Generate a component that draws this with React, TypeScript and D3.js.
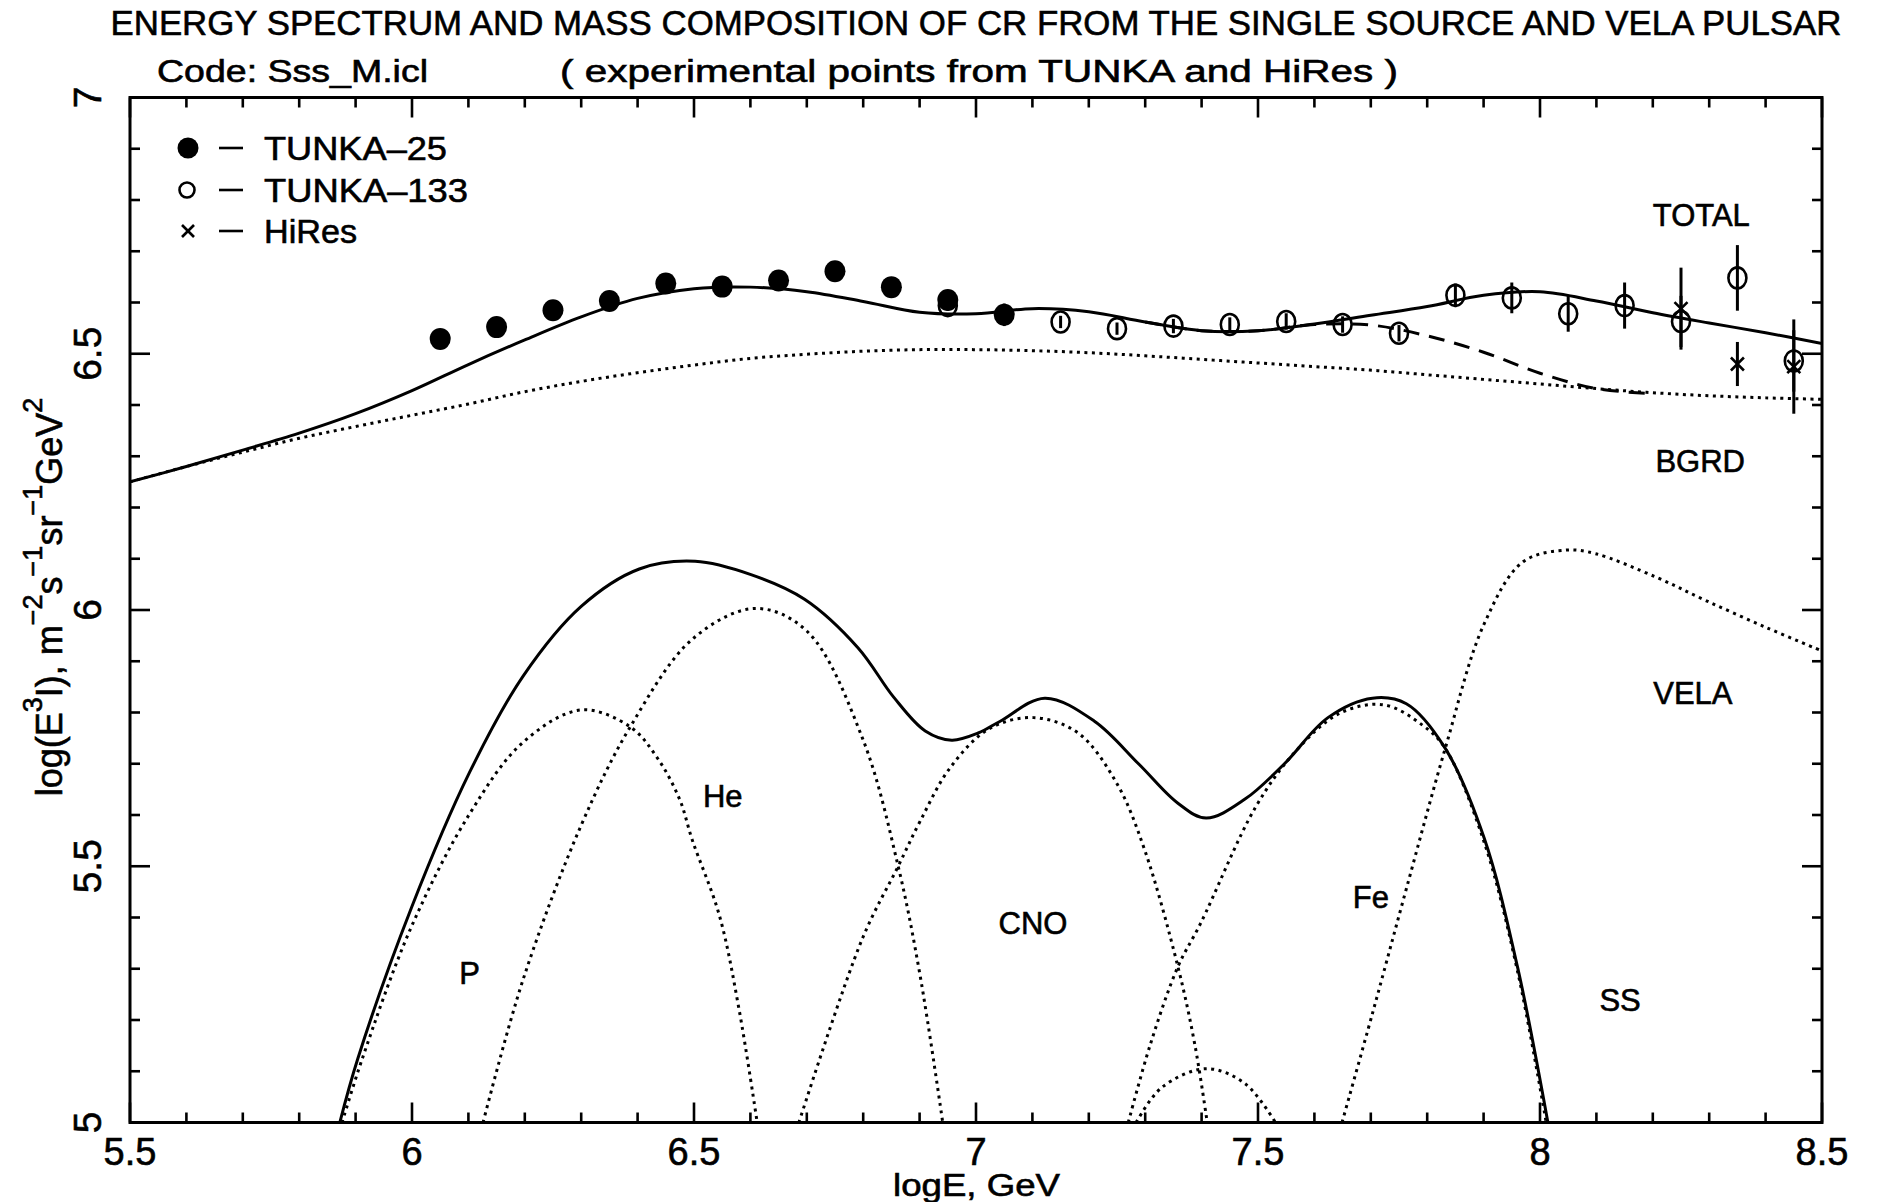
import React from 'react';
import * as d3 from 'd3';

type Pt = [number, number];

const W = 1877;
const H = 1202;
const PLOT = { left: 130, right: 1822, top: 97.5, bottom: 1122.5 };

const xDomain: Pt = [5.5, 8.5];
const yDomain: Pt = [5, 7];
const xTickValues = [5.5, 6, 6.5, 7, 7.5, 8, 8.5];
const xTickLabels = ['5.5', '6', '6.5', '7', '7.5', '8', '8.5'];
const yTickValues = [5, 5.5, 6, 6.5, 7];
const yTickLabels = ['5', '5.5', '6', '6.5', '7'];

// model curves (logE, log(E^3 I))
const totalCurve: Pt[] = [
  [5.5, 6.25], [5.6, 6.28], [5.7, 6.312], [5.8, 6.345], [5.9, 6.383], [6.0, 6.428],
  [6.1, 6.479], [6.2, 6.527], [6.3, 6.572], [6.4, 6.608], [6.5, 6.627], [6.6, 6.63],
  [6.7, 6.621], [6.8, 6.602], [6.9, 6.581], [7.0, 6.578], [7.1, 6.588], [7.2, 6.582],
  [7.3, 6.562], [7.4, 6.545], [7.5, 6.545], [7.6, 6.558], [7.7, 6.575], [7.8, 6.592],
  [7.9, 6.614], [8.0, 6.621], [8.1, 6.603], [8.2, 6.58], [8.3, 6.56], [8.4, 6.541], [8.5, 6.52],
];
const noVelaCurve: Pt[] = [
  [7.3, 6.562], [7.4, 6.545], [7.5, 6.545], [7.6, 6.557], [7.7, 6.556], [7.8, 6.535],
  [7.9, 6.503], [8.0, 6.462], [8.1, 6.432], [8.2, 6.422],
];
const bgrdCurve: Pt[] = [
  [5.5, 6.25], [5.6, 6.28], [5.7, 6.308], [5.8, 6.335], [5.9, 6.358], [6.0, 6.38],
  [6.1, 6.402], [6.2, 6.426], [6.3, 6.446], [6.4, 6.463], [6.5, 6.478], [6.6, 6.491],
  [6.7, 6.499], [6.8, 6.505], [6.9, 6.508], [7.0, 6.508], [7.1, 6.506], [7.2, 6.502],
  [7.3, 6.496], [7.4, 6.489], [7.5, 6.482], [7.6, 6.475], [7.7, 6.468], [7.8, 6.459],
  [7.9, 6.45], [8.0, 6.441], [8.1, 6.432], [8.2, 6.424], [8.3, 6.418], [8.4, 6.414], [8.5, 6.411],
];
const ssCurve: Pt[] = [
  [5.872, 5.0], [5.904, 5.125], [5.999, 5.419], [6.102, 5.683], [6.197, 5.871], [6.3, 6.007],
  [6.403, 6.08], [6.502, 6.095], [6.601, 6.069], [6.696, 6.021], [6.791, 5.926], [6.854, 5.83],
  [6.91, 5.764], [6.957, 5.746], [7.004, 5.76], [7.043, 5.783], [7.122, 5.828], [7.21, 5.783],
  [7.289, 5.699], [7.358, 5.623], [7.408, 5.594], [7.477, 5.631], [7.546, 5.699], [7.624, 5.79],
  [7.703, 5.828], [7.763, 5.817], [7.832, 5.73], [7.901, 5.555], [7.96, 5.304], [8.014, 5.0],
];
const pCurve: Pt[] = [
  [5.876, 5.0], [5.912, 5.125], [5.999, 5.382], [6.102, 5.602], [6.197, 5.742], [6.3, 5.805],
  [6.387, 5.772], [6.434, 5.713], [6.474, 5.632], [6.497, 5.551], [6.545, 5.404], [6.58, 5.22], [6.612, 5.0],
];
const heCurve: Pt[] = [
  [6.126, 5.0], [6.197, 5.279], [6.3, 5.58], [6.387, 5.772], [6.498, 5.944], [6.608, 6.003],
  [6.7, 5.959], [6.799, 5.749], [6.862, 5.5], [6.901, 5.286], [6.941, 5.0],
];
const cnoCurve: Pt[] = [
  [6.686, 5.0], [6.799, 5.36], [6.862, 5.5], [6.901, 5.588], [6.954, 5.692], [7.023, 5.768],
  [7.102, 5.79], [7.181, 5.76], [7.25, 5.661], [7.299, 5.532], [7.358, 5.304], [7.388, 5.152], [7.41, 5.0],
];
const feCurve: Pt[] = [
  [7.27, 5.0], [7.309, 5.152], [7.358, 5.304], [7.398, 5.388], [7.496, 5.616], [7.565, 5.722],
  [7.644, 5.798], [7.723, 5.815], [7.792, 5.775], [7.832, 5.73], [7.901, 5.547], [7.96, 5.296], [8.011, 5.0],
];
const minorCurve: Pt[] = [
  [7.284, 5.0], [7.329, 5.068], [7.408, 5.105], [7.477, 5.076], [7.531, 5.0],
];
const velaCurve: Pt[] = [
  [7.649, 5.0], [7.703, 5.213], [7.763, 5.456], [7.832, 5.73], [7.901, 5.973], [7.97, 6.094],
  [8.048, 6.117], [8.098, 6.11], [8.206, 6.064], [8.295, 6.018], [8.403, 5.965], [8.5, 5.92],
];

// experimental points
const tunka25E = [6.05, 6.15, 6.25, 6.35, 6.45, 6.55, 6.65, 6.75, 6.85, 6.95, 7.05];
const tunka25Flux = [6.529, 6.552, 6.585, 6.603, 6.637, 6.631, 6.643, 6.661, 6.63, 6.605, 6.576];
const tunka25Err = [0.01, 0.01, 0.01, 0.01, 0.01, 0.01, 0.01, 0.01, 0.012, 0.015, 0.022];

const tunka133E = [6.95, 7.15, 7.25, 7.35, 7.45, 7.55, 7.65, 7.75, 7.85, 7.95, 8.05, 8.15, 8.25, 8.35, 8.45];
const tunka133Flux = [6.594, 6.562, 6.549, 6.554, 6.557, 6.563, 6.557, 6.54, 6.614, 6.609, 6.578, 6.594, 6.563, 6.648, 6.486];
const tunka133Err = [0.01, 0.012, 0.012, 0.014, 0.014, 0.016, 0.016, 0.016, 0.023, 0.03, 0.035, 0.045, 0.05, 0.064, 0.06];

const hiresE = [8.25, 8.35, 8.45];
const hiresFlux = [6.588, 6.48, 6.475];
const hiresErr = [0.08, 0.043, 0.092];

const curveLabels = ['TOTAL', 'BGRD', 'VELA', 'SS', 'Fe', 'CNO', 'He', 'P'];
const curveLabelE = [8.286, 8.284, 8.271, 8.142, 7.7, 7.101, 6.551, 6.102];
const curveLabelY = [6.771, 6.291, 5.838, 5.239, 5.44, 5.389, 5.637, 5.292];

const legendLabels = ['TUNKA\u201325', 'TUNKA\u2013133', 'HiRes'];

const FONT = "'Liberation Sans', Arial, Helvetica, sans-serif";

export default function App() {
  const x = d3.scaleLinear().domain(xDomain).range([PLOT.left, PLOT.right]);
  const y = d3.scaleLinear().domain(yDomain).range([PLOT.bottom, PLOT.top]);
  const line = d3
    .line<Pt>()
    .x((d) => x(d[0]))
    .y((d) => y(d[1]))
    .curve(d3.curveCatmullRom.alpha(0.5));

  const solid = { fill: 'none', stroke: '#000', strokeWidth: 3, strokeLinejoin: 'round' as const };
  const dotted = { fill: 'none', stroke: '#000', strokeWidth: 3, strokeDasharray: '3 4.5' };
  const dashed = { fill: 'none', stroke: '#000', strokeWidth: 3, strokeDasharray: '16 10' };

  const xMinor = d3.range(0, 31).map((i) => ({ v: xDomain[0] + i * 0.1, major: i % 5 === 0 }));
  const yMinor = d3.range(0, 21).map((i) => ({ v: yDomain[0] + i * 0.1, major: i % 5 === 0 }));

  const cross = (cx: number, cy: number, s: number, k: string) => (
    <g key={k} stroke="#000" strokeWidth={2.6}>
      <line x1={cx - s} y1={cy - s} x2={cx + s} y2={cy + s} />
      <line x1={cx - s} y1={cy + s} x2={cx + s} y2={cy - s} />
    </g>
  );

  const legendRows = [148, 190, 231];
  const legendWidths = [183, 204, 93];

  return (
    <svg
      width={W}
      height={H}
      viewBox={`0 0 ${W} ${H}`}
      style={{ position: 'absolute', left: 0, top: 0, background: '#fff' }}
      fontFamily={FONT}
    >
      <rect x={0} y={0} width={W} height={H} fill="#fff" />
      <defs>
        <clipPath id="plotClip">
          <rect x={PLOT.left} y={PLOT.top} width={PLOT.right - PLOT.left} height={PLOT.bottom - PLOT.top} />
        </clipPath>
      </defs>

      {/* curves */}
      <g clipPath="url(#plotClip)">
        <path d={line(bgrdCurve) || ''} {...dotted} />
        <path d={line(pCurve) || ''} {...dotted} />
        <path d={line(heCurve) || ''} {...dotted} />
        <path d={line(cnoCurve) || ''} {...dotted} />
        <path d={line(feCurve) || ''} {...dotted} />
        <path d={line(minorCurve) || ''} {...dotted} />
        <path d={line(velaCurve) || ''} {...dotted} />
        <path d={line(ssCurve) || ''} {...solid} />
        <path d={line(noVelaCurve) || ''} {...dashed} />
        <path d={line(totalCurve) || ''} {...solid} />
      </g>

      {/* experimental points */}
      <g>
        {tunka133E.map((e, i) => (
          <g key={`t133-${i}`}>
            <line x1={x(e)} x2={x(e)} y1={y(tunka133Flux[i] - tunka133Err[i])} y2={y(tunka133Flux[i] + tunka133Err[i])} stroke="#000" strokeWidth={3} />
            <ellipse cx={x(e)} cy={y(tunka133Flux[i])} rx={9} ry={10.5} fill="none" stroke="#000" strokeWidth={2.6} />
          </g>
        ))}
        {hiresE.map((e, i) => (
          <g key={`hr-${i}`}>
            <line x1={x(e)} x2={x(e)} y1={y(hiresFlux[i] - hiresErr[i])} y2={y(hiresFlux[i] + hiresErr[i])} stroke="#000" strokeWidth={3} />
            {cross(x(e), y(hiresFlux[i]), 6.5, `hrx-${i}`)}
          </g>
        ))}
        {tunka25E.map((e, i) => (
          <g key={`t25-${i}`}>
            <line x1={x(e)} x2={x(e)} y1={y(tunka25Flux[i] - tunka25Err[i])} y2={y(tunka25Flux[i] + tunka25Err[i])} stroke="#000" strokeWidth={3} />
            <ellipse cx={x(e)} cy={y(tunka25Flux[i])} rx={10.5} ry={11} fill="#000" />
          </g>
        ))}
      </g>

      {/* legend markers */}
      <circle cx={188} cy={legendRows[0]} r={10.5} fill="#000" />
      <circle cx={187} cy={legendRows[1]} r={7.5} fill="none" stroke="#000" strokeWidth={2.6} />
      {cross(188, legendRows[2], 6, 'lgx')}
      {legendLabels.map((t, i) => (
        <line key={`ld-${i}`} x1={219} x2={243} y1={legendRows[i]} y2={legendRows[i]} stroke="#000" strokeWidth={2.6} />
      ))}

      {/* frame and ticks */}
      <rect x={PLOT.left} y={PLOT.top} width={PLOT.right - PLOT.left} height={PLOT.bottom - PLOT.top} fill="none" stroke="#000" strokeWidth={3} />
      <g stroke="#000" strokeWidth={2.6}>
        {xMinor.map((t, i) => {
          const len = t.major ? 20 : 10;
          const px = x(t.v);
          return (
            <g key={`xt-${i}`}>
              <line x1={px} x2={px} y1={PLOT.bottom} y2={PLOT.bottom - len} />
              <line x1={px} x2={px} y1={PLOT.top} y2={PLOT.top + len} />
            </g>
          );
        })}
        {yMinor.map((t, i) => {
          const len = t.major ? 20 : 10;
          const py = y(t.v);
          return (
            <g key={`yt-${i}`}>
              <line x1={PLOT.left} x2={PLOT.left + len} y1={py} y2={py} />
              <line x1={PLOT.right} x2={PLOT.right - len} y1={py} y2={py} />
            </g>
          );
        })}
      </g>

      {/* all texts, slightly emboldened */}
      <g fill="#000" stroke="#000" strokeWidth={0.6}>
        <text x={976} y={35} textAnchor="middle" fontSize={35} textLength={1731} lengthAdjust="spacingAndGlyphs">
          ENERGY SPECTRUM AND MASS COMPOSITION OF CR FROM THE SINGLE SOURCE AND VELA PULSAR
        </text>
        <text x={157} y={82} fontSize={31} textLength={271} lengthAdjust="spacingAndGlyphs">
          Code: Sss_M.icl
        </text>
        <text x={560} y={82} fontSize={31} textLength={838} lengthAdjust="spacingAndGlyphs">
          ( experimental points from TUNKA and HiRes )
        </text>

        {curveLabels.map((t, i) => (
          <text key={t} x={x(curveLabelE[i])} y={y(curveLabelY[i])} dy="0.36em" textAnchor="middle" fontSize={31}>
            {t}
          </text>
        ))}

        {legendLabels.map((t, i) => (
          <text key={`lt-${i}`} x={264} y={legendRows[i] + 12} fontSize={33} textLength={legendWidths[i]} lengthAdjust="spacingAndGlyphs">
            {t}
          </text>
        ))}

        {xTickValues.map((v, i) => (
          <text key={`xl-${i}`} x={x(v)} y={1165} textAnchor="middle" fontSize={38}>
            {xTickLabels[i]}
          </text>
        ))}
        {yTickValues.map((v, i) => (
          <text key={`yl-${i}`} transform={`translate(101,${y(v)}) rotate(-90)`} textAnchor="middle" fontSize={39}>
            {yTickLabels[i]}
          </text>
        ))}

        <text x={893} y={1196} fontSize={31} textLength={167} lengthAdjust="spacingAndGlyphs">
          logE, GeV
        </text>
        <text transform="translate(62,597) rotate(-90)" textAnchor="middle" fontSize={36}>
          log(E
          <tspan dy={-20} fontSize={27}>3</tspan>
          <tspan dy={20}>I), m</tspan>
          <tspan dy={-20} fontSize={27}>{'\u22122'}</tspan>
          <tspan dy={20}>s</tspan>
          <tspan dy={-20} fontSize={27}>{'\u22121'}</tspan>
          <tspan dy={20}>sr</tspan>
          <tspan dy={-20} fontSize={27}>{'\u22121'}</tspan>
          <tspan dy={20}>GeV</tspan>
          <tspan dy={-20} fontSize={27}>2</tspan>
        </text>
      </g>
    </svg>
  );
}
